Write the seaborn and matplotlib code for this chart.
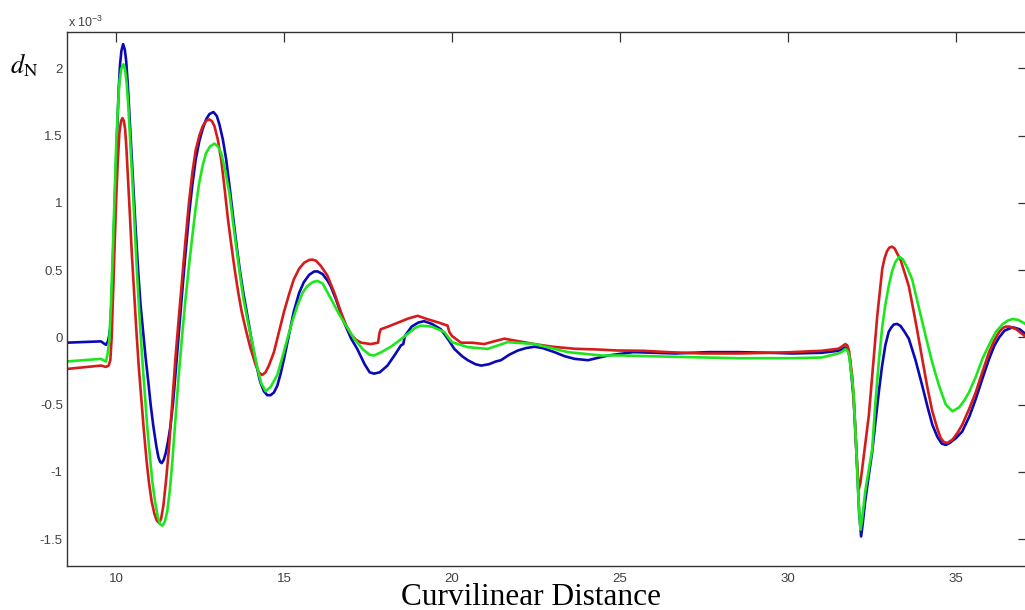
import matplotlib
matplotlib.use("Agg")
import matplotlib.pyplot as plt
import seaborn as sns
import pandas as pd

# ---- data (y in units of 1e-3) ----
blue_x = [8.5, 9.55, 9.70, 9.76, 9.80, 9.83, 9.88, 9.93, 9.98, 10.03, 10.08, 10.12, 10.16, 10.21, 10.26,
          10.30, 10.35, 10.40, 10.45, 10.51, 10.58, 10.66, 10.73, 10.81, 10.88, 10.96, 11.03, 11.11, 11.20,
          11.26, 11.31, 11.36, 11.42, 11.48, 11.55, 11.62, 11.70, 11.77, 11.87, 11.97, 12.07, 12.17, 12.27,
          12.37, 12.48, 12.58, 12.68, 12.78, 12.90, 13.00, 13.08, 13.18, 13.28, 13.38, 13.48, 13.59, 13.69,
          13.79, 13.89, 14.09, 14.20, 14.29, 14.40, 14.50, 14.60, 14.70, 14.80, 14.90, 15.00, 15.15, 15.29,
          15.45, 15.59, 15.75, 15.90, 16.00, 16.15, 16.30, 16.39, 16.55, 16.79, 17.00, 17.18, 17.40, 17.55,
          17.68, 17.85, 18.08, 18.30, 18.48, 18.55, 18.60, 18.80, 19.00, 19.17, 19.40, 19.67, 19.90, 20.07,
          20.30, 20.47, 20.70, 20.87, 21.10, 21.30, 21.46, 21.70, 21.96, 22.20, 22.46, 22.70, 23.05, 23.35,
          23.65, 24.05, 24.30, 24.65, 25.40, 26.00, 26.64, 27.63, 28.53, 29.50, 30.12, 31.00, 31.50, 31.60,
          31.71, 31.78, 31.84, 31.96, 32.05, 32.12, 32.18, 32.23, 32.30, 32.40, 32.51, 32.61, 32.71, 32.80,
          32.90, 33.00, 33.07, 33.15, 33.25, 33.35, 33.45, 33.60, 33.80, 34.00, 34.15, 34.30, 34.45, 34.58,
          34.70, 34.82, 35.00, 35.19, 35.40, 35.59, 35.80, 35.99, 36.15, 36.29, 36.45, 36.69, 36.90, 37.20]
blue_y = [-0.04, -0.03, -0.056, -0.03, 0.02, 0.08, 0.35, 0.75, 1.15, 1.52, 1.85, 2.03, 2.13, 2.18, 2.14,
          2.06, 1.88, 1.65, 1.42, 1.14, 0.82, 0.49, 0.24, 0.03, -0.15, -0.33, -0.50, -0.66, -0.81,
          -0.89, -0.925, -0.935, -0.91, -0.86, -0.77, -0.66, -0.48, -0.27, 0.04, 0.34, 0.63, 0.905, 1.13,
          1.32, 1.46, 1.55, 1.62, 1.66, 1.675, 1.645, 1.58, 1.47, 1.32, 1.12, 0.905, 0.68, 0.49,
          0.33, 0.19, -0.10, -0.23, -0.33, -0.40, -0.43, -0.43, -0.41, -0.36, -0.27, -0.16, 0.02, 0.19,
          0.33, 0.41, 0.465, 0.49, 0.49, 0.47, 0.42, 0.38, 0.28, 0.11, -0.01, -0.086, -0.20, -0.26,
          -0.27, -0.26, -0.21, -0.13, -0.06, -0.05, 0.01, 0.08, 0.11, 0.12, 0.10, 0.06, -0.02, -0.086,
          -0.14, -0.17, -0.20, -0.21, -0.20, -0.18, -0.17, -0.13, -0.098, -0.08, -0.07, -0.08, -0.11, -0.14,
          -0.16, -0.17, -0.155, -0.135, -0.11, -0.115, -0.12, -0.11, -0.11, -0.115, -0.12, -0.115, -0.10, -0.09,
          -0.075, -0.09, -0.15, -0.46, -0.90, -1.30, -1.48, -1.38, -1.22, -1.04, -0.85, -0.62, -0.40, -0.22,
          -0.06, 0.04, 0.07, 0.095, 0.10, 0.085, 0.05, -0.01, -0.17, -0.36, -0.51, -0.65, -0.74, -0.79,
          -0.80, -0.785, -0.75, -0.70, -0.59, -0.46, -0.30, -0.16, -0.06, 0.0, 0.05, 0.075, 0.06, 0.0]

red_x = [8.5, 9.55, 9.70, 9.78, 9.83, 9.87, 9.90, 9.95, 10.00, 10.05, 10.10, 10.15, 10.19, 10.23, 10.27,
         10.31, 10.35, 10.41, 10.47, 10.54, 10.61, 10.68, 10.76, 10.83, 10.91, 10.98, 11.06, 11.14, 11.21,
         11.28, 11.34, 11.41, 11.49, 11.57, 11.67, 11.77, 11.87, 11.97, 12.07, 12.17, 12.27, 12.37, 12.48,
         12.58, 12.68, 12.78, 12.86, 12.93, 13.03, 13.13, 13.23, 13.33, 13.44, 13.54, 13.64, 13.74, 13.87,
         13.99, 14.15, 14.25, 14.35, 14.45, 14.55, 14.70, 14.85, 15.00, 15.15, 15.29, 15.45, 15.60, 15.75,
         15.84, 15.95, 16.10, 16.29, 16.50, 16.69, 16.85, 17.00, 17.15, 17.30, 17.58, 17.80, 17.84, 17.88,
         18.10, 18.40, 18.70, 18.98, 19.27, 19.60, 19.87, 19.92, 20.00, 20.27, 20.60, 20.96, 21.25, 21.56,
         22.00, 22.45, 23.00, 23.65, 24.30, 24.94, 25.70, 26.44, 27.43, 28.53, 29.50, 30.12, 31.00, 31.50,
         31.60, 31.71, 31.77, 31.82, 31.87, 31.92, 32.00, 32.06, 32.11, 32.16, 32.25, 32.33, 32.41, 32.50,
         32.58, 32.66, 32.74, 32.81, 32.88, 32.95, 33.02, 33.10, 33.18, 33.26, 33.35, 33.45, 33.60, 33.80,
         34.00, 34.15, 34.30, 34.45, 34.55, 34.65, 34.75, 34.90, 35.05, 35.19, 35.40, 35.59, 35.80, 35.99,
         36.15, 36.29, 36.40, 36.49, 36.60, 36.80, 37.00, 37.20]
red_y = [-0.236, -0.21, -0.22, -0.21, -0.17, 0.0, 0.24, 0.62, 1.0, 1.30, 1.52, 1.61, 1.63, 1.61, 1.55,
         1.40, 1.21, 0.92, 0.62, 0.32, 0.03, -0.23, -0.48, -0.70, -0.92, -1.08, -1.22, -1.31, -1.36,
         -1.38, -1.35, -1.25, -1.06, -0.84, -0.50, -0.15, 0.15, 0.44, 0.73, 1.0, 1.22, 1.39, 1.50,
         1.57, 1.61, 1.62, 1.605, 1.57, 1.47, 1.32, 1.11, 0.88, 0.67, 0.49, 0.33, 0.19, 0.05,
         -0.07, -0.20, -0.26, -0.28, -0.26, -0.21, -0.11, 0.04, 0.19, 0.32, 0.43, 0.51, 0.555, 0.575,
         0.578, 0.57, 0.53, 0.46, 0.33, 0.19, 0.09, 0.02, -0.02, -0.04, -0.05, -0.04, 0.03, 0.06,
         0.08, 0.11, 0.14, 0.16, 0.135, 0.11, 0.087, 0.04, 0.01, -0.04, -0.04, -0.05, -0.03, -0.01,
         -0.03, -0.05, -0.07, -0.085, -0.09, -0.098, -0.10, -0.11, -0.12, -0.12, -0.115, -0.11, -0.10, -0.085,
         -0.07, -0.05, -0.06, -0.10, -0.20, -0.30, -0.65, -0.95, -1.13, -1.08, -0.90, -0.74, -0.58, -0.32,
         -0.08, 0.16, 0.35, 0.51, 0.59, 0.64, 0.667, 0.674, 0.66, 0.62, 0.58, 0.50, 0.38, 0.12,
         -0.16, -0.37, -0.55, -0.68, -0.75, -0.78, -0.785, -0.76, -0.71, -0.65, -0.53, -0.41, -0.25, -0.11,
         -0.02, 0.04, 0.07, 0.08, 0.08, 0.06, 0.02, -0.02]

green_x = [8.5, 9.55, 9.70, 9.75, 9.80, 9.85, 9.90, 9.95, 10.00, 10.05, 10.10, 10.16, 10.22, 10.27, 10.32,
           10.37, 10.42, 10.49, 10.56, 10.63, 10.71, 10.78, 10.86, 10.93, 11.01, 11.08, 11.16, 11.24, 11.31,
           11.38, 11.45, 11.52, 11.60, 11.67, 11.77, 11.87, 11.97, 12.07, 12.17, 12.27, 12.37, 12.47, 12.58,
           12.68, 12.80, 12.93, 13.03, 13.13, 13.25, 13.38, 13.48, 13.59, 13.69, 13.79, 13.92, 14.04, 14.20,
           14.32, 14.45, 14.60, 14.80, 14.95, 15.10, 15.25, 15.39, 15.55, 15.69, 15.85, 15.99, 16.15, 16.39,
           16.60, 16.79, 17.09, 17.35, 17.55, 17.68, 17.90, 18.18, 18.45, 18.68, 18.90, 19.07, 19.40, 19.77,
           20.00, 20.47, 21.06, 21.66, 22.46, 23.45, 24.45, 25.04, 26.64, 28.53, 30.12, 31.00, 31.50, 31.60,
           31.71, 31.77, 31.82, 31.88, 31.95, 32.03, 32.10, 32.16, 32.21, 32.30, 32.40, 32.51, 32.60, 32.70,
           32.81, 32.90, 33.00, 33.10, 33.20, 33.32, 33.42, 33.55, 33.70, 33.90, 34.10, 34.30, 34.50, 34.70,
           34.90, 35.10, 35.25, 35.39, 35.60, 35.79, 36.00, 36.19, 36.40, 36.55, 36.69, 36.85, 37.00, 37.20]
green_y = [-0.18, -0.16, -0.18, -0.12, -0.02, 0.25, 0.62, 1.0, 1.39, 1.68, 1.90, 2.00, 2.03, 1.99, 1.88,
           1.70, 1.47, 1.14, 0.80, 0.45, 0.11, -0.16, -0.43, -0.67, -0.89, -1.07, -1.22, -1.33, -1.39,
           -1.40, -1.37, -1.30, -1.14, -0.94, -0.60, -0.27, 0.02, 0.29, 0.53, 0.75, 0.96, 1.14, 1.28,
           1.37, 1.42, 1.44, 1.42, 1.37, 1.24, 1.06, 0.86, 0.65, 0.46, 0.29, 0.12, -0.02, -0.22,
           -0.34, -0.40, -0.37, -0.28, -0.15, -0.01, 0.12, 0.23, 0.33, 0.38, 0.41, 0.42, 0.40, 0.29,
           0.19, 0.11, -0.01, -0.09, -0.13, -0.135, -0.11, -0.07, -0.02, 0.025, 0.07, 0.087, 0.08, 0.04,
           -0.036, -0.073, -0.086, -0.036, -0.05, -0.11, -0.135, -0.135, -0.145, -0.155, -0.155, -0.15, -0.12, -0.11,
           -0.086, -0.10, -0.13, -0.25, -0.40, -0.80, -1.20, -1.43, -1.35, -1.15, -1.00, -0.83, -0.50, -0.20,
           0.08, 0.24, 0.38, 0.49, 0.56, 0.60, 0.58, 0.52, 0.43, 0.22, 0.01, -0.19, -0.36, -0.50,
           -0.55, -0.52, -0.47, -0.41, -0.29, -0.16, -0.05, 0.04, 0.10, 0.125, 0.136, 0.13, 0.11, 0.08]

x_ticks = [10, 15, 20, 25, 30, 35]
y_ticks = [-1.5, -1, -0.5, 0, 0.5, 1, 1.5, 2]
y_tick_labels = ["-1.5", "-1", "-0.5", "0", "0.5", "1", "1.5", "2"]

series_colors = {"blue": "#0a0ab4", "red": "#d41c1c", "green": "#1ee61e"}

frames = []
for name, xs, ys in [("blue", blue_x, blue_y), ("red", red_x, red_y), ("green", green_x, green_y)]:
    frames.append(pd.DataFrame({"x": xs, "y": ys, "series": name}))
df = pd.concat(frames, ignore_index=True)

sns.set_theme(style="white")
plt.rcParams["font.family"] = ["Liberation Sans", "DejaVu Sans"]
plt.rcParams["axes.unicode_minus"] = False
plt.rcParams["mathtext.fontset"] = "stix"

fig = plt.figure(figsize=(10.25, 6.10), dpi=100)
ax = fig.add_axes([67 / 1025, 1 - 566 / 610, 1.003 - 67 / 1025, (566 - 32) / 610])

sns.lineplot(data=df, x="x", y="y", hue="series", palette=series_colors,
             units="series", estimator=None, sort=False, linewidth=1.9,
             legend=False, ax=ax)
for line in ax.get_lines():
    line.set_solid_joinstyle("round")

ax.set_xlim(8.54, 37.15)
ax.set_ylim(-1.70, 2.27)
ax.set_xticks(x_ticks)
ax.set_yticks(y_ticks)
ax.set_yticklabels(y_tick_labels)
ax.set_xlabel("")
ax.set_ylabel("")
ax.tick_params(direction="in", length=7, width=0.9, top=True, right=True,
               labelsize=9.5, labelcolor="#404040", color="#333333")
ax.tick_params(axis="x", pad=5)
ax.tick_params(axis="y", pad=3)
for sp in ax.spines.values():
    sp.set_color("#333333")
    sp.set_linewidth(1.0)

fig.text(68 / 1025, 1 - 22 / 610, r"x 10$^{\mathregular{-3}}$", fontsize=9, color="#404040",
         ha="left", va="center")
fig.text(10 / 1025, 1 - 65 / 610, r"$d_{\mathrm{N}}$", fontsize=19, color="black",
         ha="left", va="center")
fig.text(531 / 1025, 1 - 605 / 610, "Curvilinear Distance", fontsize=22.5,
         family=["Liberation Serif", "DejaVu Serif"], color="black", ha="center", va="baseline")

fig.savefig("out.png", dpi=100)
